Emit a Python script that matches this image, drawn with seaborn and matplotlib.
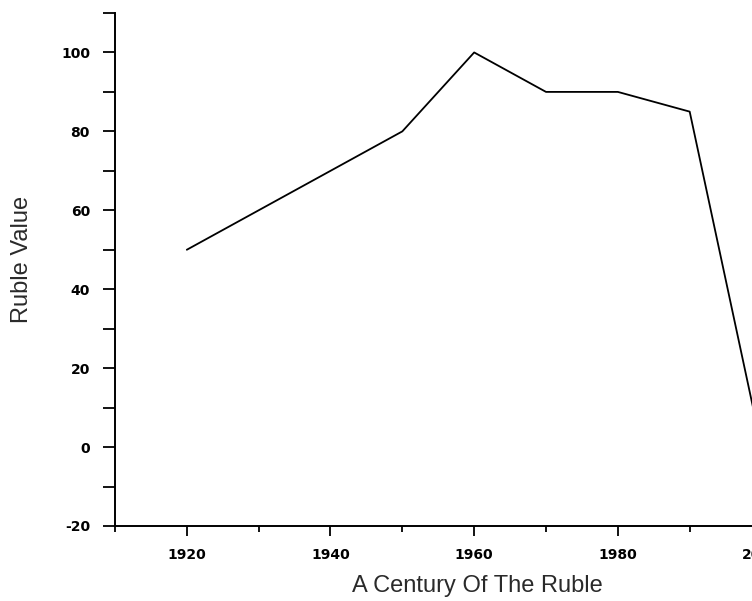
import numpy as np
import pandas as pd
import seaborn as sns
import matplotlib
matplotlib.use("Agg")
import matplotlib.pyplot as plt
from matplotlib.ticker import MultipleLocator

# values
years = [1920, 1930, 1940, 1950, 1960, 1970, 1980, 1990, 2000]
ruble_value = [50, 60, 70, 80, 100, 90, 90, 85, 0]

sns.set_style("white")
plt.rcParams['font.family'] = ['Liberation Sans', 'DejaVu Sans']
plt.rcParams['axes.unicode_minus'] = False

df = pd.DataFrame({'year': years, 'value': ruble_value})

fig = plt.figure(figsize=(7.52, 6.01), dpi=100)
# axes runs past the right edge, the original picture is cropped there
ax = fig.add_axes([0.1529, 0.1248, 0.9553, 0.8536])
sns.lineplot(data=df, x='year', y='value', color='black', linewidth=1.3, ax=ax)

ax.set_xlim(1910, 2010)
ax.set_ylim(-20, 110)

ax.xaxis.set_major_locator(MultipleLocator(20))
ax.xaxis.set_minor_locator(MultipleLocator(10))
ax.yaxis.set_major_locator(MultipleLocator(20))
ax.yaxis.set_minor_locator(MultipleLocator(10))

for s in ['top', 'right']:
    ax.spines[s].set_visible(False)
for s in ['left', 'bottom']:
    ax.spines[s].set_color('black')
    ax.spines[s].set_linewidth(1.4)

ax.tick_params(axis='both', which='both', direction='out', color='black', width=1.3,
               labelcolor='black', bottom=True, left=True)
ax.tick_params(axis='x', which='major', length=7, pad=9)
ax.tick_params(axis='x', which='minor', length=4)
ax.tick_params(axis='y', which='major', length=9, pad=9)
ax.tick_params(axis='y', which='minor', length=9)
for lab in ax.get_xticklabels() + ax.get_yticklabels():
    lab.set_fontfamily('DejaVu Sans')
    lab.set_fontweight('bold')
    lab.set_fontsize(10)

ax.set_xlabel('A Century Of The Ruble', fontsize=17, color='#2a2a2a')
ax.set_ylabel('Ruble Value', fontsize=17, color='#2a2a2a')
ax.xaxis.set_label_coords(0.505, -0.095)
ax.yaxis.set_label_coords(-0.114, 0.52)

fig.savefig('out.png', dpi=100)
